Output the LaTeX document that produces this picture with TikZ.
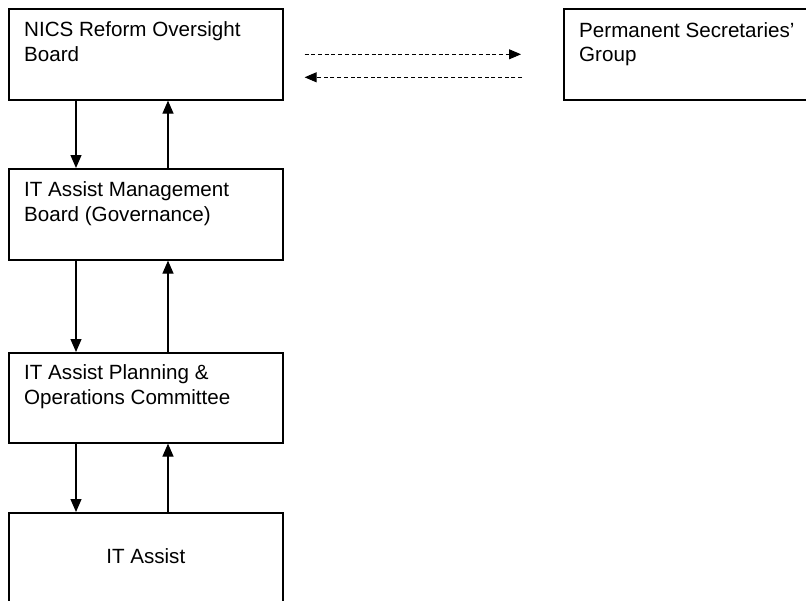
\documentclass[tikz,border=0pt]{standalone}
\usepackage{fontspec}
\setmainfont{Liberation Sans}
\usetikzlibrary{arrows.meta}
\begin{document}
\begin{tikzpicture}[x=1pt,y=-1pt,
    font=\fontsize{20.6}{24.5}\selectfont,
    box/.style={draw,line width=1.6pt,minimum width=274pt,minimum height=91pt,inner sep=0pt,anchor=north west},
    txt/.style={anchor=north west,align=left,inner sep=0pt},
    flow/.style={draw,line width=1.2pt,-{Triangle[length=13pt,width=11pt]}},
    liaise/.style={draw,line width=0.9pt,dash pattern=on 4pt off 2.7pt,-{Triangle[length=12pt,width=10pt]}}
  ]
  \path[use as bounding box,clip] (0,0) rectangle (806,600);
  %% boxes
  \node[box] (nics) at (8,8) {};
  \node[box] (perm) at (563,8) {};
  \node[box] (mgmt) at (8,168) {};
  \node[box,minimum height=90pt] (plan) at (8,352) {};
  \node[box,text depth=4pt] (itas) at (8,512) {IT Assist};
  %% box texts
  \node[txt] (nicsT) at ([xshift=16pt,yshift=-13.5pt]nics.north west) {NICS Reform Oversight\\Board};
  \node[txt] (permT) at ([xshift=16pt,yshift=-14pt]perm.north west) {Permanent Secretaries'\\Group};
  \node[txt] (mgmtT) at ([xshift=16pt,yshift=-13.5pt]mgmt.north west) {IT Assist Management\\Board (Governance)};
  \node[txt] (planT) at ([xshift=16pt,yshift=-12.5pt]plan.north west) {IT Assist Planning \&\\Operations Committee};
  %% down and up links
  \foreach \a/\b in {nics/mgmt,mgmt/plan,plan/itas}{
    \draw[flow] ([xshift=68pt]\a.south west) -- ([xshift=68pt]\b.north west);
    \draw[flow] ([xshift=160pt]\b.north west) -- ([xshift=160pt]\a.south west);
  }
  %% liaison
  \draw[liaise] ([xshift=21pt]nics.east) -- ([xshift=-42pt]perm.west);
  \draw[liaise] ([xshift=-41pt,yshift=-23pt]perm.west) -- ([xshift=21pt,yshift=-23pt]nics.east);
\end{tikzpicture}
\end{document}
